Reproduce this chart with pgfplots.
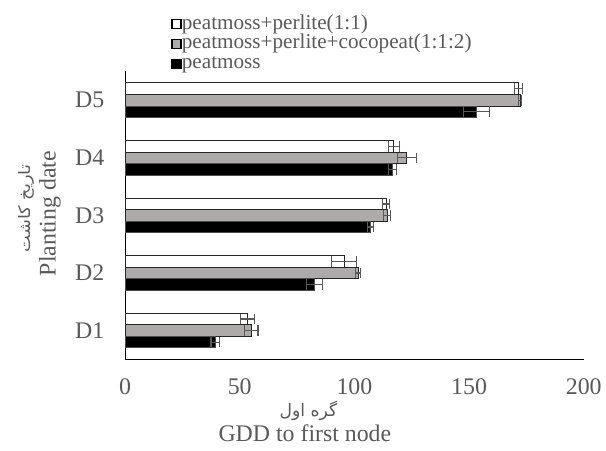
\documentclass[border=0pt]{standalone}
\usepackage{fontspec}
\setmainfont{Liberation Serif}
\newfontfamily\arabicfont[Script=Arabic]{DejaVu Sans}
\TeXXeTstate=1
\usepackage{graphicx}
\usepackage{pgfplots}
\usepackage{pgfplotstable}
\pgfplotsset{compat=1.18}

\definecolor{txtgray}{HTML}{595959}
\definecolor{mixgray}{HTML}{AEAAAA}
\definecolor{errgray}{HTML}{595959}

% date  GDD  error
\pgfplotstableread{
d  v      e
1  53.4   2.9
2  95.5   5.5
3  113.9  1.5
4  117.2  2.4
5  171.6  1.8
}\peatperlite
\pgfplotstableread{
d  v      e
1  55.1   2.9
2  101.6  1.2
3  114.3  1.5
4  122.9  4.2
5  172.3  0.6
}\peatperlitecoco
\pgfplotstableread{
d  v      e
1  39.3   1.8
2  82.5   3.5
3  107.0  1.3
4  116.5  1.8
5  153.2  5.6
}\peat

\pgfplotsset{
  sqlegend/.style={legend image code/.code={
      \draw[##1, draw=black, line width=1pt] (0pt,-3.4pt) rectangle (6.8pt,3.4pt);}},
  gddbar/.style={xbar, line width=0.75pt, sqlegend,
    error bars/x dir=both, error bars/x explicit, error bars/error mark=|,
    error bars/error bar style={errgray, line width=0.9pt},
    error bars/error mark options={errgray, line width=0.9pt, mark size=4pt}},
}

\begin{document}
\begin{tikzpicture}
\begin{axis}[
  scale only axis,
  width=346.5pt, height=217.5pt,
  xbar, bar width=0.2,
  xmin=0, xmax=200, ymin=0.5, ymax=5.5,
  axis x line=bottom, axis y line=left,
  axis line style={-, black, line width=0.8pt},
  xtick={0,50,100,150,200},
  ytick={1,2,3,4,5}, yticklabels={D1,D2,D3,D4,D5},
  major tick length=0pt,
  /pgf/number format/assume math mode=true,
  tick label style={font=\fontsize{18}{21}\selectfont, text=txtgray},
  xticklabel style={anchor=center, yshift=-21pt},
  yticklabel style={anchor=east, inner sep=0pt, xshift=-15.5pt},
  legend style={at={(axis description cs:0.1000,1.20)}, anchor=north west,
    draw=none, fill=none, font=\fontsize{16}{17}\selectfont, text=txtgray,
    row sep=0pt, inner sep=0pt,
    nodes={text height=11pt, text depth=3.5pt, inner sep=0.25pt},
    /tikz/every even column/.append style={column sep=1pt}},
  legend cell align=left,
  clip=false,
]
\addplot[gddbar, bar shift=0.2, fill=white, draw=black!85]
  table[x=v, y=d, x error=e] {\peatperlite};
\addplot[gddbar, bar shift=0, fill=mixgray, draw=black!85]
  table[x=v, y=d, x error=e] {\peatperlitecoco};
\addplot[gddbar, bar shift=-0.2, fill=black, draw=black!70]
  table[x=v, y=d, x error=e] {\peat};
\legend{peatmoss+perlite(1:1), peatmoss+perlite+cocopeat(1:1:2), peatmoss}

% axis titles (Persian and English)
\node[text=txtgray, rotate=90, font=\arabicfont\fontsize{12}{14}\selectfont]
  at (axis description cs:-0.215,0.524) {\scalebox{1.12}[1]{\beginR تاریخ کاشت\endR}};
\node[text=txtgray, rotate=90, font=\fontsize{18}{21}\selectfont]
  at (axis description cs:-0.164,0.506) {Planting date};
\node[text=txtgray, font=\arabicfont\fontsize{13}{15}\selectfont]
  at (axis description cs:0.40,-0.179) {\beginR گره اول\endR};
\node[text=txtgray, font=\fontsize{18}{21}\selectfont]
  at (axis description cs:0.392,-0.255) {GDD to first node};
\end{axis}
\path (current axis.south west) ++(-94.5pt,-69pt) rectangle ++(454.5pt,340.5pt);
\end{tikzpicture}
\end{document}
